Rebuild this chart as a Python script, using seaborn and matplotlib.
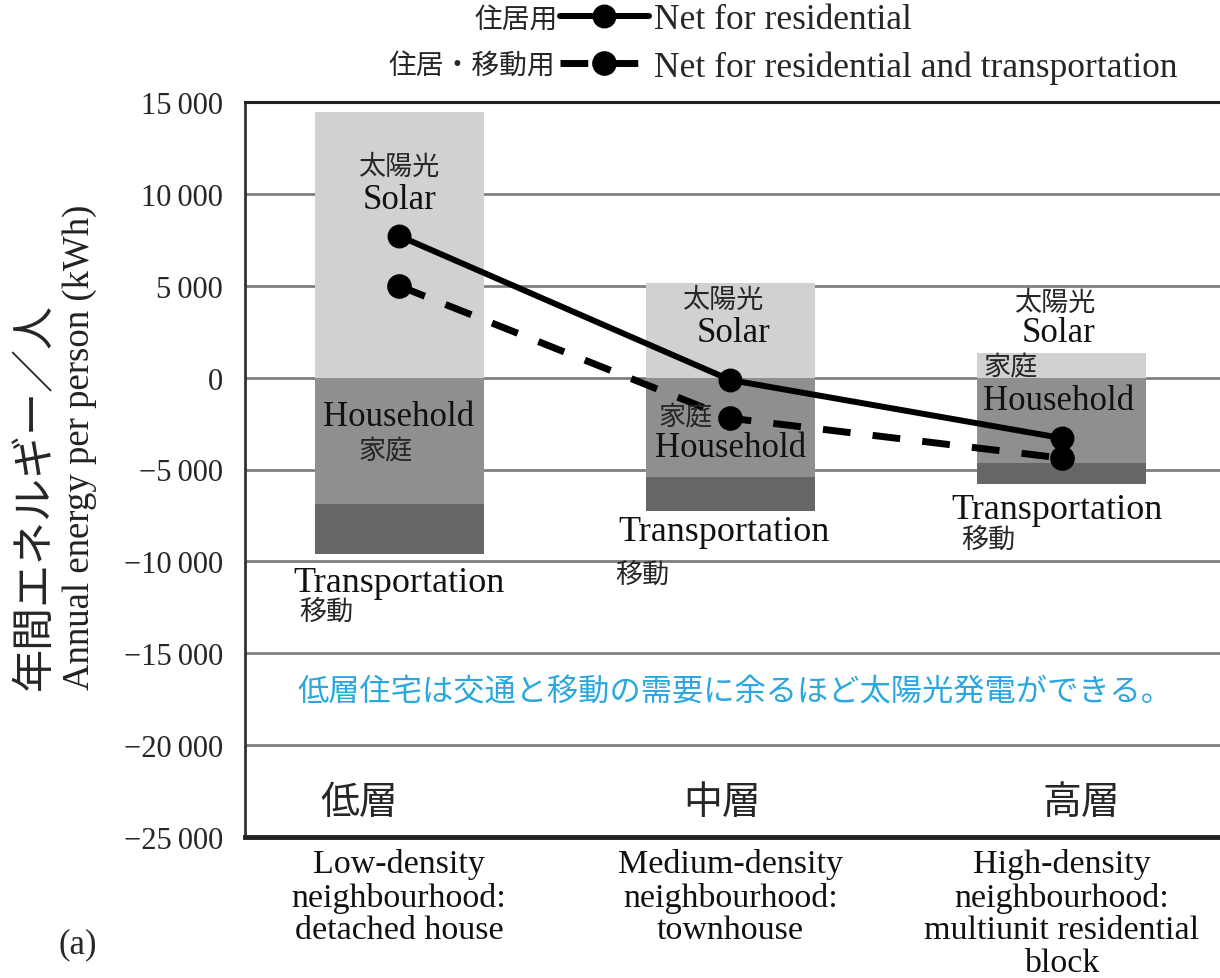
import matplotlib
matplotlib.use("Agg")
import matplotlib.pyplot as plt
import seaborn as sns
import pandas as pd

# ---------------- data ----------------
categories = ["Low-density\nneighbourhood:\ndetached house",
              "Medium-density\nneighbourhood:\ntownhouse",
              "High-density\nneighbourhood:\nmultiunit residential\nblock"]
categories_ja = ["低層", "中層", "高層"]
solar = [14450, 5150, 1340]
household = [-6890, -5410, -4650]
transportation = [-2710, -1850, -1140]
net_residential = [7710, -130, -3290]
net_res_transport = [4990, -2210, -4380]
yticks = [15000, 10000, 5000, 0, -5000, -10000, -15000, -20000, -25000]
ytick_labels = ["15\u2009000", "10\u2009000", "5\u2009000", "0", "\u22125\u2009000",
                "\u221210\u2009000", "\u221215\u2009000", "\u221220\u2009000", "\u221225\u2009000"]

SERIF = ["Liberation Serif", "DejaVu Serif"]
CJK = ["Noto Sans CJK JP", "DejaVu Sans"]

sns.set_style("white")
plt.rcParams["font.family"] = SERIF
plt.rcParams["axes.unicode_minus"] = True

df = pd.DataFrame({
    "cat": categories,
    "solar": solar,
    "household": household,
    "total_use": [h + t for h, t in zip(household, transportation)],
    "net_res": net_residential,
    "net_rt": net_res_transport,
})

fig = plt.figure(figsize=(12.2, 9.79), dpi=100)
ax = fig.add_axes([245 / 1220, 1 - 838 / 979, 1 - 245 / 1220, (838 - 103) / 979])

C_SOLAR = "#d1d1d1"
C_HOUSE = "#8f8f8f"
C_TRANS = "#666666"
W = 0.51

sns.barplot(data=df, x="cat", y="total_use", color=C_TRANS, saturation=1,
            width=W, errorbar=None, linewidth=0, ax=ax, zorder=2)
sns.barplot(data=df, x="cat", y="household", color=C_HOUSE, saturation=1,
            width=W, errorbar=None, linewidth=0, ax=ax, zorder=2)
sns.barplot(data=df, x="cat", y="solar", color=C_SOLAR, saturation=1,
            width=W, errorbar=None, linewidth=0, ax=ax, zorder=2)

n0 = len(ax.lines)
sns.pointplot(data=df, x="cat", y="net_res", color="black", errorbar=None,
              marker="o", markersize=14, linewidth=4.3, linestyle="-", ax=ax)
sns.pointplot(data=df, x="cat", y="net_rt", color="black", errorbar=None,
              marker="o", markersize=14, linewidth=5, linestyle=(0, (4, 3.2)), ax=ax)
for ln in ax.lines[n0:]:
    ln.set_zorder(5)
    ln.set_solid_capstyle("round")

ax.set_xlim(-0.465, 2.478)
ax.set_ylim(-25000, 15000)
ax.set_yticks(yticks)
ax.set_yticklabels(ytick_labels, fontsize=22, family=SERIF)
ax.set_xticks(range(len(categories)))
ax.set_xticklabels(categories, fontsize=24.5, family=SERIF, linespacing=1.1, va="top",
                   color="#111111")
ax.tick_params(axis="y", length=0, pad=16)
ax.tick_params(axis="x", length=0, pad=8)
ax.set_xlabel("")
ax.set_ylabel("")

for y in yticks[1:-1]:
    ax.axhline(y, color="#808080", lw=2.0, zorder=1)

ax.spines["right"].set_visible(False)
ax.spines["top"].set_linewidth(2.2)
ax.spines["top"].set_color("#222222")
ax.spines["left"].set_linewidth(2.0)
ax.spines["left"].set_color("#333333")
ax.spines["bottom"].set_linewidth(3.5)
ax.spines["bottom"].set_color("#222222")

# bar labels
def lab(x, y, s, cjk=False, size=None):
    if cjk:
        ax.text(x, y, s, fontsize=size or 19.5, family=CJK, ha="center", va="center", zorder=6)
    else:
        ax.text(x, y, s, fontsize=size or 25, family=SERIF, ha="center", va="center",
                color="#111111", zorder=6)

lab(0.0, 11500, "太陽光", True)
lab(0.0, 9700, "Solar")
lab(0.0, -2140, "Household")
lab(-0.04, -4000, "家庭", True)
lab(0.0, -11130, "Transportation", size=26)
lab(-0.22, -12700, "移動", True)

lab(0.976, 4280, "太陽光", True)
lab(1.01, 2480, "Solar")
lab(0.864, -2140, "家庭", True)
lab(1.0, -3780, "Household")
lab(0.98, -8350, "Transportation", size=26)
lab(0.734, -10690, "移動", True)

lab(1.98, 4110, "太陽光", True)
lab(1.99, 2480, "Solar")
lab(1.845, 580, "家庭", True)
lab(1.99, -1220, "Household")
lab(1.985, -7200, "Transportation", size=26)
lab(1.78, -8780, "移動", True)

# Japanese category labels
for x, s in zip([-0.12, 0.976, 2.06], categories_ja):
    ax.text(x, -23100, s, fontsize=28, family=CJK, ha="center", va="center", zorder=6)

# blue note
ax.text(1.015, -17100, "低層住宅は交通と移動の需要に余るほど太陽光発電ができる。",
        fontsize=22.5, family=CJK, color="#2aa7df", ha="center", va="center", zorder=6)

# y labels
fig.text(35 / 1220, 1 - 690 / 979, "年間エネルギー／人", rotation=90, fontsize=31,
         family=CJK, ha="center", va="bottom")
fig.text(80 / 1220, 1 - 690 / 979, "Annual energy per person (kWh)", rotation=90,
         fontsize=26.5, family=SERIF, ha="center", va="bottom", color="#222222")

fig.text(58 / 1220, 1 - 945 / 979, "(a)", fontsize=25, family=SERIF, ha="left", va="center")

# legend
h1 = ax.lines[n0]
h2 = ax.lines[n0 + 1]
leg = fig.legend([h1, h2], ["Net for residential", "Net for residential and transportation"],
                 loc="upper left", bbox_to_anchor=(560 / 1220, 1 - 4 / 979), frameon=False,
                 prop={"family": SERIF, "size": 25.5}, handlelength=2.5, handletextpad=0.15,
                 labelspacing=0.4, borderpad=0.0, borderaxespad=0.0)
fig.text(558 / 1220, 1 - 20 / 979, "住居用", fontsize=20, family=CJK, ha="right", va="center")
fig.text(555 / 1220, 1 - 66 / 979, "住居・移動用", fontsize=20, family=CJK, ha="right", va="center")

fig.savefig("out.png", dpi=100)
